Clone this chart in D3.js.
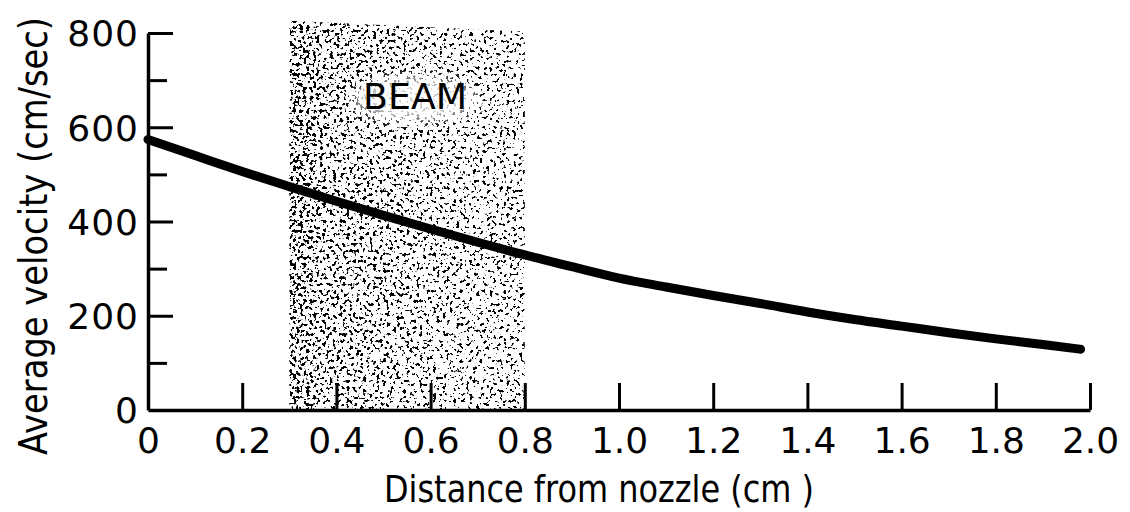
<!DOCTYPE html>
<html>
<head>
<meta charset="utf-8">
<script src="https://cdn.jsdelivr.net/npm/d3@7"></script>
<style>
  html, body { margin: 0; padding: 0; background: #fff; }
  svg { display: block; }
  text { font-family: "DejaVu Sans", sans-serif; fill: #000; }
</style>
</head>
<body>
<svg id="chart" width="1130" height="512"></svg>
<script>
// ---- data ----
const distance = [0, 0.1, 0.2, 0.3, 0.4, 0.5, 0.6, 0.7, 0.8, 0.9, 1.0, 1.1, 1.2, 1.3, 1.4, 1.5, 1.6, 1.7, 1.8, 1.9, 1.98];
const velocity = [574, 540, 506, 474, 443, 413, 384, 356, 329, 304, 280, 261, 243, 226, 208, 192, 178, 164, 151, 139, 129];
const xTickValues = [0, 0.2, 0.4, 0.6, 0.8, 1.0, 1.2, 1.4, 1.6, 1.8, 2.0];
const yTickValues = [0, 200, 400, 600, 800];
const yMinorTicks = [100, 300, 500, 700];
const beamRange = [0.3, 0.8];
const beamTop = [826, 803];
const beamLabel = { text: "BEAM", x: 0.567, y: 638 };
const xTitle = "Distance from nozzle (cm )";
const yTitle = "Average velocity (cm/sec)";

// ---- setup ----
const svg = d3.select("#chart");
const x = d3.scaleLinear().domain([0, 2.0]).range([148, 1090]);
const y = d3.scaleLinear().domain([0, 800]).range([410, 33]);

const defs = svg.append("defs");
// density gradient for stipple
const grad = defs.append("linearGradient").attr("id", "dens").attr("x1", 0).attr("x2", 1).attr("y1", 0).attr("y2", 0);
[[0, 1], [0.05, 0.95], [0.15, 0.72], [0.5, 0.62], [0.85, 0.5], [1, 0.55]].forEach(([o, a]) =>
  grad.append("stop").attr("offset", o).attr("stop-color", "#000").attr("stop-opacity", a));

const f = defs.append("filter").attr("id", "stip")
  .attr("x", 0).attr("y", 0).attr("width", 1).attr("height", 1)
  .attr("color-interpolation-filters", "sRGB");
f.append("feTurbulence").attr("type", "fractalNoise").attr("baseFrequency", 0.3)
  .attr("numOctaves", 2).attr("seed", 5).attr("result", "n");
f.append("feColorMatrix").attr("in", "n").attr("type", "matrix")
  .attr("values", "0 0 0 0 0  0 0 0 0 0  0 0 0 0 0  1 0 0 0 0").attr("result", "t");
f.append("feComposite").attr("in", "t").attr("in2", "SourceAlpha").attr("operator", "arithmetic")
  .attr("k1", 0).attr("k2", -1).attr("k3", 0.16).attr("k4", 0.44).attr("result", "m");
const ct = f.append("feComponentTransfer").attr("in", "m").attr("result", "a");
ct.append("feFuncA").attr("type", "linear").attr("slope", 24).attr("intercept", -3.2);
f.append("feFlood").attr("flood-color", "#000").attr("result", "blk");
f.append("feComposite").attr("in", "blk").attr("in2", "a").attr("operator", "in");

const blur = defs.append("filter").attr("id", "soft").attr("x", -0.3).attr("y", -0.5).attr("width", 1.6).attr("height", 2);
blur.append("feGaussianBlur").attr("stdDeviation", 6);

const clip = defs.append("clipPath").attr("id", "beamClip");
clip.append("polygon").attr("points", [
  [x(beamRange[0]), y(0)], [x(beamRange[0]), y(beamTop[0])],
  [x(beamRange[1]), y(beamTop[1])], [x(beamRange[1]), y(0)]
].map(p => p.join(",")).join(" "));

// ---- beam stipple ----
const beamG = svg.append("g").attr("clip-path", "url(#beamClip)");
beamG.append("rect")
  .attr("x", x(beamRange[0])).attr("y", y(Math.max(...beamTop)))
  .attr("width", x(beamRange[1]) - x(beamRange[0]))
  .attr("height", y(0) - y(Math.max(...beamTop)))
  .attr("fill", "url(#dens)")
  .attr("filter", "url(#stip)");

// label halo + text
const halo = beamG.append("ellipse");
const bl = svg.append("text")
  .attr("x", x(beamLabel.x)).attr("y", y(beamLabel.y))
  .attr("text-anchor", "middle").attr("font-size", 36)
  .attr("textLength", 104).attr("lengthAdjust", "spacingAndGlyphs")
  .text(beamLabel.text);
const bb = bl.node().getBBox();
halo.attr("cx", bb.x + bb.width / 2).attr("cy", bb.y + bb.height / 2 + 2)
  .attr("rx", bb.width / 2 + 10).attr("ry", bb.height / 2 + 2)
  .attr("fill", "#fff").attr("opacity", 0.8).attr("filter", "url(#soft)");

// ---- axes ----
const xAxis = d3.axisBottom(x).tickValues(xTickValues)
  .tickFormat(d => d === 0 ? "0" : d3.format(".1f")(d))
  .tickSizeInner(-27).tickSizeOuter(0).tickPadding(0);
const gx = svg.append("g").attr("transform", `translate(0,${y(0)})`).call(xAxis);
gx.select(".domain").attr("stroke-width", 3.5).attr("stroke", "#000");
gx.selectAll(".tick line").attr("stroke-width", 3).attr("stroke", "#000")
  .filter(d => d === 0).remove();
gx.selectAll(".tick text").attr("y", 43).attr("dy", 0)
  .attr("font-size", 36).attr("font-family", "DejaVu Sans");

const yAxis = d3.axisLeft(y).tickValues(yTickValues)
  .tickSizeInner(-25).tickSizeOuter(0).tickPadding(9);
const gy = svg.append("g").attr("transform", `translate(${x(0)},0)`).call(yAxis);
gy.select(".domain").attr("stroke-width", 3.5).attr("stroke", "#000");
gy.selectAll(".tick line").attr("stroke-width", 3).attr("stroke", "#000")
  .filter(d => d === 0).remove();
gy.selectAll(".tick text").attr("font-size", 36).attr("font-family", "DejaVu Sans")
  .attr("dy", "0.36em").attr("letter-spacing", 1);

const yMinor = d3.axisLeft(y).tickValues(yMinorTicks).tickSizeInner(-19).tickSizeOuter(0).tickFormat("");
const gym = svg.append("g").attr("transform", `translate(${x(0)},0)`).call(yMinor);
gym.select(".domain").remove();
gym.selectAll(".tick line").attr("stroke-width", 3).attr("stroke", "#000");

// ---- curve ----
const pts = distance.map((d, i) => [d, velocity[i]]);
svg.append("path").datum(pts)
  .attr("fill", "none").attr("stroke", "#000").attr("stroke-width", 9)
  .attr("stroke-linecap", "round").attr("stroke-linejoin", "round")
  .attr("d", d3.line().x(d => x(d[0])).y(d => y(d[1])).curve(d3.curveMonotoneX));

// ---- titles ----
svg.append("text").attr("x", 599).attr("y", 502).attr("text-anchor", "middle")
  .attr("font-size", 38).attr("textLength", 430).attr("lengthAdjust", "spacingAndGlyphs")
  .text(xTitle);
svg.append("text").attr("transform", "translate(47,236) rotate(-90) scale(1,1.3)").attr("text-anchor", "middle")
  .attr("font-size", 30).attr("textLength", 438).attr("lengthAdjust", "spacingAndGlyphs")
  .text(yTitle);
</script>
</body>
</html>
